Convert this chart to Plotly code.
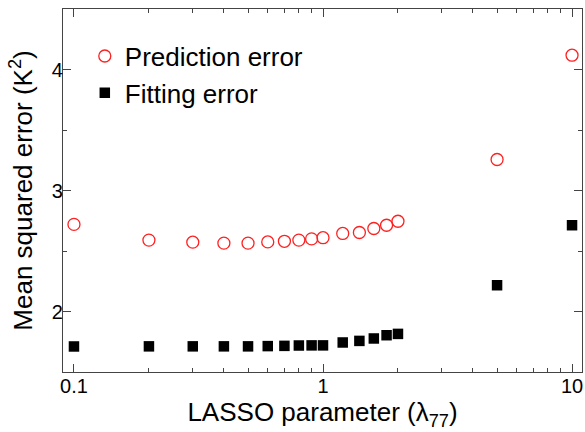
import plotly.graph_objects as go

lam = [0.1, 0.2, 0.3, 0.4, 0.5, 0.6, 0.7, 0.8, 0.9, 1.0, 1.2, 1.4, 1.6, 1.8, 2.0, 5.0, 10.0]
prediction_error = [2.72, 2.59, 2.573, 2.565, 2.565, 2.575, 2.58, 2.59, 2.60, 2.61, 2.645, 2.653, 2.686, 2.713, 2.746, 3.256, 4.118]
fitting_error = [1.711, 1.712, 1.712, 1.712, 1.712, 1.714, 1.716, 1.719, 1.72, 1.72, 1.744, 1.757, 1.777, 1.804, 1.815, 2.217, 2.713]
x_tickvals = [0.1, 1, 10]
x_ticktext = ["0.1", "1", "10"]

font_family = "Liberation Sans, Arial, Helvetica, sans-serif"

fig = go.Figure()
fig.add_trace(go.Scatter(
    x=lam, y=prediction_error, mode="markers", name="Prediction error", legendgroup="p",
    marker=dict(symbol="circle-open", size=12, color="#ff2020", line=dict(width=1.3, color="#ff2020")),
))
fig.add_trace(go.Scatter(
    x=lam, y=fitting_error, mode="markers", name="Fitting error", legendgroup="f",
    marker=dict(symbol="square", size=10.5, color="black"),
))

axis_common = dict(
    showline=True, linecolor="#444", linewidth=1.3, mirror="ticks",
    ticks="inside", tickcolor="#444", tickwidth=1, ticklen=8,
    showgrid=False, zeroline=False, automargin=False,
    tickfont=dict(size=20, color="black", family=font_family),
)

fig.update_xaxes(
    type="log", range=[-1.044, 1.040],
    tickvals=x_tickvals, ticktext=x_ticktext, ticklabelstandoff=-4,
    minor=dict(ticks="inside", ticklen=4, tickcolor="#444", dtick="D1", showgrid=False),
    title=dict(text="LASSO parameter (λ<sub>77</sub>)", font=dict(size=26, color="black", family=font_family), standoff=4),
    **axis_common,
)
fig.update_yaxes(
    range=[1.5, 4.5], dtick=1, tick0=0, ticklabelstandoff=-5,
    minor=dict(ticks="inside", ticklen=4, tickcolor="#444", dtick=0.5, showgrid=False),
    title=dict(text="Mean squared error (K<sup>2</sup>)", font=dict(size=26, color="black", family=font_family), standoff=11),
    **axis_common,
)

fig.update_layout(
    width=585, height=432,
    margin=dict(l=63, r=3, t=9, b=60),
    paper_bgcolor="white", plot_bgcolor="white",
    font=dict(family=font_family, color="black"),
    legend=dict(x=0.042, y=0.935, xanchor="left", yanchor="top",
                font=dict(size=26, color="black", family=font_family),
                bgcolor="rgba(0,0,0,0)", itemwidth=30, tracegroupgap=0),
    showlegend=True,
)

fig.write_html("out.html", config={"displayModeBar": False},
               post_script="document.body.style.margin='0px';document.body.style.padding='0px';")
